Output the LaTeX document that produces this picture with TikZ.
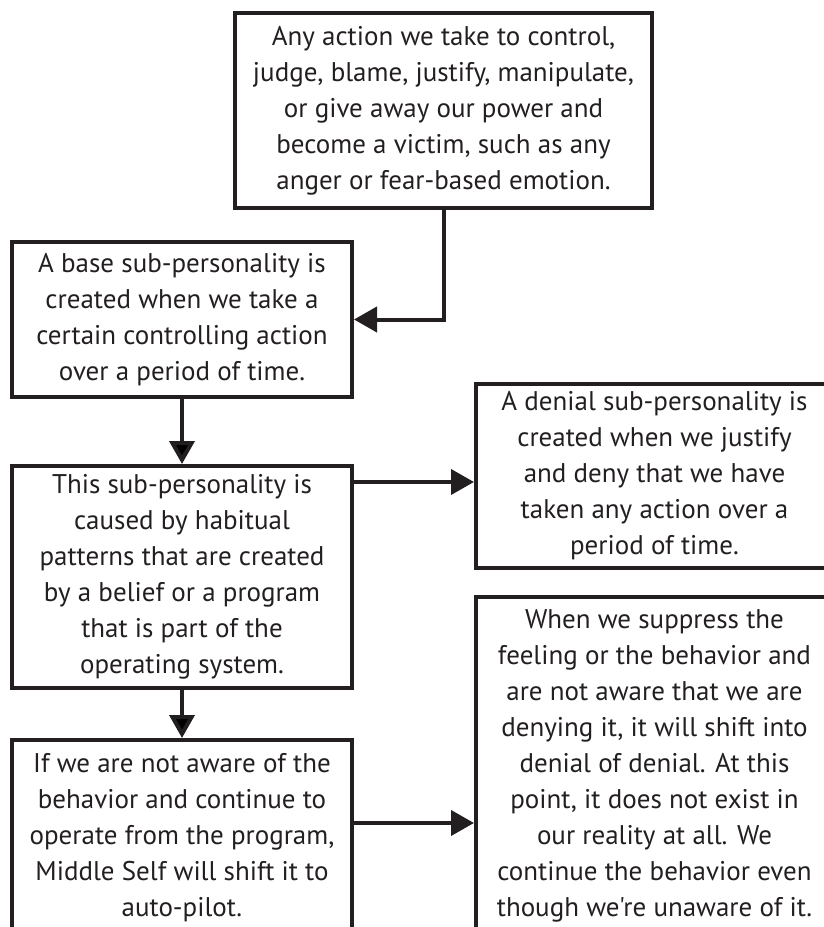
\documentclass[tikz,border=0pt]{standalone}
\usepackage{fontspec}
\setmainfont{PT Sans}[Ligatures=TeXOff]
\usepackage{tikz}
\usetikzlibrary{arrows.meta}
\definecolor{ink}{RGB}{35,31,32}

\begin{document}
\begin{tikzpicture}[x=1pt,y=-1pt,line width=4pt,
    box/.style={draw=ink,rectangle,align=center,inner sep=0pt,text=ink,
                font=\fontsize{27}{36}\selectfont},
    flow/.style={-{Triangle[length=23pt,width=25pt]},draw=ink}]
  \useasboundingbox (0,0) rectangle (824,927);
  \clip (0,0) rectangle (824,927);

  \node[box,minimum width=417pt,minimum height=195pt] 	(act)     at (443.5,110.5)
    {Any action we take to control,\\judge, blame, justify, manipulate,\\or give away our power and\\become a victim, such as any\\anger or fear-based emotion.};
  \node[box,minimum width=340pt,minimum height=155pt] 	(base)    at (182,319.5)
    {A base sub-personality is\\created when we take a\\certain controlling action\\over a period of time.};
  \node[box,minimum width=340pt,minimum height=222pt] 	(habit)   at (182,577)
    {This sub-personality is\\caused by habitual\\patterns that are created\\by a belief or a program\\that is part of the\\operating system.};
  \node[box,minimum width=357pt,minimum height=184pt] 	(denial)  at (654.5,476)
    {A denial sub-personality is\\created when we justify\\and deny that we have\\taken any action over a\\period of time.};
  \node[box,minimum width=340pt,minimum height=195pt] 	(pilot)   at (182,837.5)
    {If we are not aware of the\\behavior and continue to\\operate from the program,\\Middle Self will shift it to\\auto-pilot.};
  \node[box,minimum width=357pt,minimum height=338pt] 	(unaware) at (654.5,766)
    {When we suppress the\\feeling or the behavior and\\are not aware that we are\\denying it, it will shift into\\denial of denial. At this\\point, it does not exist in\\our reality at all. We\\continue the behavior even\\though we're unaware of it.};

  \coordinate (dIn) at ([yshift=-6pt]denial.west);
  \coordinate (pOut) at ([yshift=14.5pt]pilot.east);

  \draw[flow] (act.south) |- (base.east);
  \path[flow] (base) edge (habit)
              (habit) edge (pilot);
  \draw[flow] (habit.east |- dIn) -- (dIn);
  \draw[flow] (pOut) -- (pOut -| unaware.west);
\end{tikzpicture}
\end{document}
